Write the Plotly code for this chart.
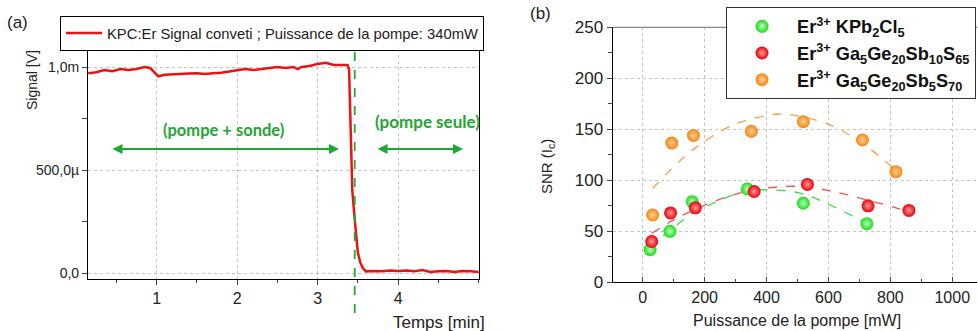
import plotly.graph_objects as go

# ---------------- Data panel (a) ----------------
t_min = [0.15, 0.25, 0.35, 0.45, 0.55, 0.65, 0.75, 0.85, 0.92, 0.97, 1.02, 1.1, 1.2, 1.3, 1.4, 1.5,
         1.6, 1.7, 1.8, 1.9, 2.0, 2.1, 2.2, 2.3, 2.4, 2.5, 2.6, 2.7, 2.75, 2.8, 2.9, 3.0, 3.1, 3.15,
         3.2, 3.3, 3.37, 3.39, 3.41, 3.43, 3.46, 3.48, 3.50, 3.53, 3.56, 3.6, 3.7, 3.8, 3.9, 4.0,
         4.1, 4.2, 4.3, 4.35, 4.4, 4.5, 4.6, 4.7, 4.8, 4.9, 5.0]
signal_mV = [0.97, 0.975, 0.985, 0.98, 0.99, 0.985, 0.99, 1.0, 0.995, 0.975, 0.955, 0.962, 0.965, 0.965,
             0.968, 0.97, 0.966, 0.97, 0.972, 0.978, 0.985, 0.99, 0.985, 0.99, 0.995, 1.0, 0.995, 1.0,
             0.99, 1.0, 1.005, 1.015, 1.02, 1.015, 1.01, 1.01, 1.01, 0.99, 0.7, 0.4, 0.26, 0.16, 0.097,
             0.05, 0.024, 0.008, 0.01, 0.008, 0.012, 0.01, 0.012, 0.008, 0.015, 0.01, 0.005, 0.008,
             0.01, 0.005, 0.01, 0.008, 0.005]
signal_V = [v * 1e-3 for v in signal_mV]
pump_off_time = 3.46
a_yticks = [0, 0.0005, 0.001]
a_yticklabels = ["0,0", "500,0µ", "1,0m"]
a_xticks = [1, 2, 3, 4]

# ---------------- Data panel (b) ----------------
kpb_x = [24, 88, 160, 338, 519, 724]
kpb_y = [32, 50, 79, 91.5, 77.5, 57.5]
gs10_x = [29, 90, 170, 360, 532, 728, 860]
gs10_y = [40, 68, 73, 89, 96, 75, 70.5]
gs5_x = [32, 94, 164, 351, 519, 710, 818]
gs5_y = [66, 136.5, 144, 148, 157.5, 139.5, 108.5]

kpb_fit_x = [18, 77, 153, 239, 325, 400, 508, 616, 713]
kpb_fit_y = [35, 48, 66, 79, 89, 90.7, 87.4, 74.3, 59.5]
gs10_fit_x = [29, 99, 185, 293, 400, 508, 616, 724, 821, 845]
gs10_fit_y = [48, 61, 73.6, 85.8, 92.3, 94, 89, 80.8, 72.7, 70.5]
gs5_fit_x = [32, 120, 185, 293, 398, 444, 508, 616, 724, 810]
gs5_fit_y = [92, 119, 135, 154.5, 163.4, 165, 162.7, 152.9, 133, 112]

b_xticks = [0, 200, 400, 600, 800, 1000]
b_yticks = [0, 50, 100, 150, 200, 250]

W, H = 978, 331
def px(x):
    return x / W
def py(y):
    return 1 - y / H

FONT = "Liberation Sans, Arial, sans-serif"
GREEN_TXT = "#1fa633"

fig = go.Figure()

# panel (a) signal
fig.add_trace(go.Scatter(
    x=t_min, y=signal_V, mode="lines", line=dict(color="#ee1111", width=2.5),
    name="KPC:Er Signal conveti ; Puissance de la pompe: 340mW",
    xaxis="x", yaxis="y", legend="legend"))

# panel (b) fits
for fx, fy, col in [(gs5_fit_x, gs5_fit_y, "#f7a24a"),
                    (gs10_fit_x, gs10_fit_y, "#f05555"),
                    (kpb_fit_x, kpb_fit_y, "#3fdc3f")]:
    fig.add_trace(go.Scatter(x=fx, y=fy, mode="lines",
                             line=dict(color=col, width=1.3, dash="dash", shape="spline"),
                             showlegend=False, xaxis="x2", yaxis="y2", hoverinfo="skip"))

series = [
    (kpb_x, kpb_y, "#1ddb1d", "#b8ffb8", "<b>Er<sup>3+</sup> KPb<sub>2</sub>Cl<sub>5</sub></b>"),
    (gs10_x, gs10_y, "#e80008", "#ff9a9a", "<b>Er<sup>3+</sup> Ga<sub>5</sub>Ge<sub>20</sub>Sb<sub>10</sub>S<sub>65</sub></b>"),
    (gs5_x, gs5_y, "#f5860f", "#ffcf99", "<b>Er<sup>3+</sup> Ga<sub>5</sub>Ge<sub>20</sub>Sb<sub>5</sub>S<sub>70</sub></b>"),
]
for sx, sy, col, hi, nm in series:
    fig.add_trace(go.Scatter(
        x=sx, y=sy, mode="markers", name=nm,
        marker=dict(size=13, color=col, line=dict(width=0),
                    gradient=dict(type="radial", color=hi)),
        xaxis="x2", yaxis="y2", legend="legend2"))

axis_common = dict(showline=True, linecolor="black", linewidth=1.2, zeroline=False,
                   griddash="dot", gridcolor="#c4c4c4", gridwidth=1, automargin=False,
                   tickfont=dict(family=FONT, size=16, color="#222"))

fig.update_layout(
    width=W, height=H,
    margin=dict(l=0, r=0, t=0, b=0, pad=0, autoexpand=False),
    paper_bgcolor="white", plot_bgcolor="white",
    font=dict(family=FONT, color="#222"),
    xaxis=dict(domain=[px(88), px(479)], range=[0.1466, 5.004], anchor="y",
               tickvals=a_xticks, ticks="outside", ticklen=5, mirror=True,
               minor=dict(dtick=0.5, tick0=0.5, ticks="outside", ticklen=3, showgrid=False),
               showgrid=True, **axis_common),
    yaxis=dict(domain=[py(279), py(37)], range=[-0.0000291, 0.0011456], anchor="x",
               tickvals=a_yticks, ticktext=a_yticklabels, ticks="outside", ticklen=5, mirror=True,
               minor=dict(tickvals=[0.00025, 0.00075], ticks="outside", ticklen=5, showgrid=False),
               showgrid=True, **{**axis_common, "tickfont": dict(family=FONT, size=14, color="#222")}),
    yaxis3=dict(overlaying="y", side="right", anchor="x", range=[-0.0000291, 0.0011456],
                tickvals=a_yticks, ticks="inside", ticklen=5, showticklabels=False, showgrid=False,
                minor=dict(tickvals=[0.00025, 0.00075], ticks="inside", ticklen=5),
                showline=False, zeroline=False, automargin=False),
    xaxis2=dict(domain=[px(612.7), px(977)], range=[-97, 1080], anchor="y2",
                tickvals=b_xticks, ticks="inside", ticklen=5,
                minor=dict(dtick=200, tick0=100, ticks="inside", ticklen=3, showgrid=False),
                showgrid=True, **axis_common),
    yaxis2=dict(domain=[py(282.3), py(27.3)], range=[0, 250], anchor="x2",
                tickvals=b_yticks, ticks="outside", ticklen=5,
                minor=dict(dtick=50, tick0=25, ticks="outside", ticklen=4, showgrid=False),
                showgrid=True, **{**axis_common, "tickfont": dict(family=FONT, size=17, color="#222")}),
    legend=dict(x=px(60), y=py(16), xanchor="left", yanchor="top",
                bordercolor="black", borderwidth=1, bgcolor="white",
                font=dict(family=FONT, size=14.8, color="#222"), itemwidth=36,
                entrywidth=405, entrywidthmode="pixels",
                tracegroupgap=0),
    legend2=dict(x=px(726), y=py(7), xanchor="left", yanchor="top",
                 bordercolor="#333", borderwidth=1, bgcolor="white",
                 font=dict(family=FONT, size=18.2, color="#111"),
                 tracegroupgap=0, itemwidth=60, entrywidth=185, entrywidthmode="pixels"),
    showlegend=True,
)

# vertical dashed pump-off line
fig.add_shape(type="line", xref="x", yref="paper", x0=pump_off_time, x1=pump_off_time,
              y0=py(313), y1=py(17), line=dict(color="#22aa33", width=1.8, dash="dash"))
# top frame in panel (b)
fig.add_shape(type="line", xref="x2 domain", yref="y2 domain", x0=0, x1=1, y0=1, y1=1,
              line=dict(color="#888", width=1.2))

# double arrows
for x0, x1 in [(0.432, 3.265), (3.725, 4.806)]:
    fig.add_annotation(x=x1, y=0.000602, ax=x0, ay=0.000602, xref="x", yref="y", axref="x", ayref="y",
                       text="", showarrow=True, arrowhead=2, arrowside="end+start",
                       arrowsize=1, arrowwidth=2, arrowcolor=GREEN_TXT)

fig.add_annotation(x=1.825, y=0.000694, xref="x", yref="y", text="<b>(pompe + sonde)</b>",
                   showarrow=False, font=dict(family="Lato, sans-serif", size=16.5, color=GREEN_TXT))
fig.add_annotation(x=4.36, y=0.000733, xref="x", yref="y", text="<b>(pompe seule)</b>",
                   showarrow=False, font=dict(family="Lato, sans-serif", size=17, color=GREEN_TXT))

texts = [
    ("(a)", 17, 22, 17, 0),
    ("(b)", 540, 14, 17, 0),
    ("Signal [V]", 32, 80, 14, -90),
    ("Temps [min]", 439, 322, 17, 0),
    ("SNR (I<sub>c</sub>)", 547, 167, 15, -90),
    ("Puissance de la pompe [mW]", 797, 320, 16, 0),
]
for txt, x, y, sz, ang in texts:
    fig.add_annotation(x=px(x), y=py(y), xref="paper", yref="paper", text=txt, showarrow=False,
                       textangle=ang, xanchor="center", yanchor="middle",
                       font=dict(family=FONT, size=sz, color="#222"))

fig.write_html("out.html")
